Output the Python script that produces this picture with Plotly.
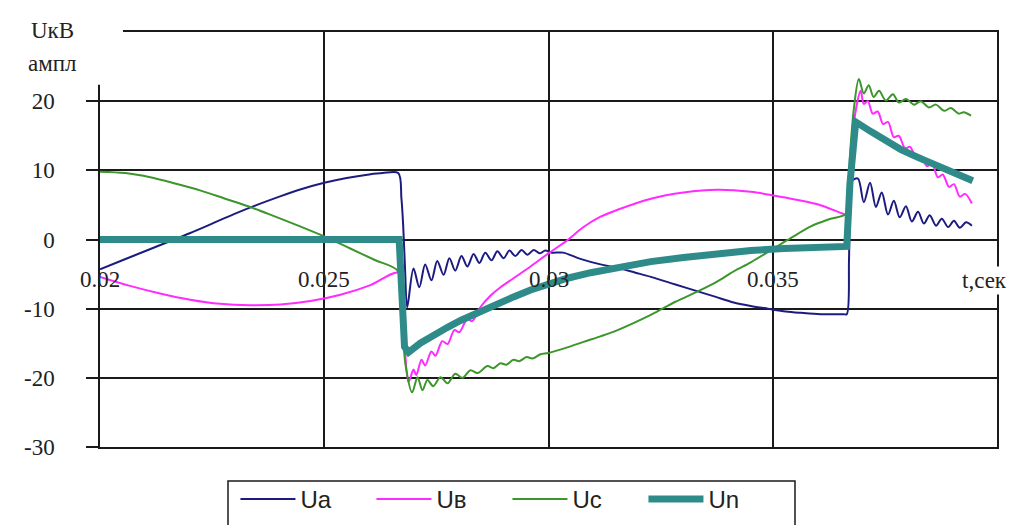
import plotly.graph_objects as go

# ---- data (t in seconds, U in kV) ----
t_ua = [0.0200, 0.0205, 0.0210, 0.0215, 0.0220, 0.0225, 0.0230, 0.0235, 0.0240, 0.0245,
        0.0250, 0.0255, 0.0260, 0.0263, 0.02665, 0.02672, 0.02676, 0.02680, 0.02685,
        0.02699, 0.02712, 0.02725, 0.02739, 0.02752, 0.02766, 0.02779, 0.02792, 0.02806,
        0.02819, 0.02833, 0.02846, 0.02859, 0.02873, 0.02886, 0.02900, 0.02913, 0.02926,
        0.02940, 0.02953, 0.02967, 0.02980, 0.02993, 0.03007, 0.03033, 0.03071, 0.03116,
        0.03154, 0.03194, 0.03228, 0.03283, 0.03333, 0.03373, 0.03413, 0.03451, 0.03489,
        0.03529, 0.03563, 0.03607, 0.03658, 0.03665, 0.03670, 0.03672, 0.03677,
        0.03690, 0.03703, 0.03717, 0.03730, 0.03743, 0.03757, 0.03770, 0.03783, 0.03797,
        0.03810, 0.03824, 0.03837, 0.03850, 0.03864, 0.03877, 0.03891, 0.03904, 0.03917,
        0.03931, 0.03944]
ua = [-4.3, -3.0, -1.7, -0.4, 0.9, 2.3, 3.7, 5.0, 6.2, 7.3,
      8.2, 8.9, 9.4, 9.6, 9.6, 6.0, 2.0, -4.0, -9.8,
      -4.2, -6.9, -3.6, -5.9, -3.1, -5.1, -2.7, -4.5, -2.4,
      -3.9, -2.1, -3.4, -1.9, -3.0, -1.7, -2.7, -1.6, -2.4,
      -1.5, -2.2, -1.5, -2.0, -1.6, -1.9, -1.9, -2.8, -3.6,
      -4.1, -4.8, -5.4, -6.5, -7.5, -8.3, -9.1, -9.6, -10.0,
      -10.4, -10.6, -10.8, -10.8, -10.8, -3.0, 5.0, 8.5,
      8.8, 5.4, 8.2, 4.7, 6.8, 3.6, 5.6, 3.2, 4.8,
      2.6, 4.0, 2.3, 3.5, 2.0, 3.0, 1.8, 2.7, 1.7,
      2.5, 2.0]

t_ub = [0.0200, 0.02067, 0.02134, 0.02201, 0.02268, 0.02335, 0.02402, 0.02469, 0.02536,
        0.02603, 0.02665, 0.02672, 0.02679, 0.02688, 0.02699, 0.02705, 0.02717, 0.02725,
        0.02739, 0.02748, 0.02763, 0.02775, 0.02790, 0.02801, 0.02819, 0.02830, 0.02848,
        0.02871, 0.02893, 0.02922, 0.02960, 0.03000, 0.03042, 0.03078, 0.03116, 0.03154,
        0.03228, 0.03301, 0.03377, 0.03451, 0.03525, 0.03600, 0.03658, 0.03665, 0.03672,
        0.03681, 0.03696, 0.03703, 0.03712, 0.03723, 0.03734, 0.03746, 0.03757, 0.03770,
        0.03781, 0.03795, 0.03806, 0.03819, 0.03830, 0.03844, 0.03855, 0.03868, 0.03879,
        0.03893, 0.03904, 0.03917, 0.03929, 0.03944]
ub = [-5.4, -6.7, -7.8, -8.7, -9.3, -9.5, -9.4, -8.9, -8.0,
      -6.6, -4.8, -8.0, -15.0, -20.6, -18.8, -19.6, -17.4, -18.2,
      -16.2, -16.8, -14.7, -15.1, -13.1, -13.4, -11.5, -11.8, -9.8,
      -8.1, -6.9, -5.6, -3.9, -2.0, -0.1, 1.8, 3.3, 4.3,
      5.9, 6.8, 7.2, 6.9, 6.1, 5.1, 3.7, 3.6, 10.0,
      17.0, 21.5, 19.6, 20.0, 18.2, 18.5, 16.7, 17.0, 14.8,
      15.0, 13.2, 13.4, 12.0, 12.1, 10.6, 11.0, 9.0, 9.4,
      7.6, 8.0, 6.2, 6.6, 5.2]

t_uc = [0.0200, 0.02056, 0.02112, 0.02167, 0.02223, 0.02279, 0.02335, 0.02391, 0.02446,
        0.02498, 0.02558, 0.02614, 0.02665, 0.02672, 0.02681, 0.02696, 0.02708, 0.02719,
        0.02730, 0.02743, 0.02759, 0.02775, 0.02792, 0.02808, 0.02826, 0.02842, 0.02864,
        0.02877, 0.02893, 0.02906, 0.02922, 0.02935, 0.02951, 0.02964, 0.02982, 0.03000,
        0.03042, 0.03078, 0.03116, 0.03154, 0.03228, 0.03283, 0.03333, 0.03373, 0.03413,
        0.03451, 0.03502, 0.03540, 0.03585, 0.03629, 0.03665, 0.03672, 0.03681, 0.03692,
        0.03703, 0.03714, 0.03725, 0.03737, 0.03752, 0.03768, 0.03781, 0.03797, 0.03815,
        0.03830, 0.03848, 0.03864, 0.03882, 0.03897, 0.03915, 0.03926, 0.03942]
uc = [9.8, 9.6, 9.0, 8.1, 7.1, 5.9, 4.7, 3.3, 1.9,
      0.5, -1.3, -3.0, -4.6, -10.0, -18.0, -22.1, -19.9, -21.8,
      -20.3, -21.2, -19.9, -20.8, -19.4, -20.0, -18.9, -19.3, -18.3,
      -18.6, -17.9, -18.1, -17.4, -17.6, -17.0, -17.2, -16.6, -16.4,
      -15.6, -14.8, -14.0, -13.1, -10.9, -9.0, -7.5, -6.2, -4.6,
      -3.3, -1.3, 0.2, 1.9, 3.0, 3.8, 12.0, 19.0, 23.2,
      21.1, 22.3, 20.6, 21.5, 20.1, 21.0, 19.8, 20.3, 19.5,
      20.0, 19.1, 19.5, 18.6, 19.0, 18.2, 18.4, 17.9]

t_un = [0.0200, 0.02667, 0.02679, 0.02688, 0.02714, 0.02743, 0.02775, 0.02804, 0.02848,
        0.02893, 0.02922, 0.02960, 0.03000, 0.03042, 0.03094, 0.03154, 0.03228, 0.03301,
        0.03377, 0.03451, 0.03525, 0.03600, 0.03658, 0.03665, 0.03672, 0.03685, 0.03719,
        0.03752, 0.03786, 0.03826, 0.03864, 0.03902, 0.03946]
un = [0.0, 0.0, -15.5, -16.3, -15.0, -13.8, -12.7, -11.7, -10.4,
      -9.0, -8.3, -7.3, -6.4, -5.6, -4.8, -4.0, -3.2, -2.6,
      -2.0, -1.6, -1.3, -1.1, -1.0, -1.0, 8.0, 17.0, 15.6,
      14.3, 13.0, 11.8, 10.8, 9.8, 8.5]

series_names = ["Ua", "Uв", "Uc", "Un"]
x_tick_vals = [0.02, 0.025, 0.03, 0.035]
x_tick_text = ["0.02", "0.025", "0.03", "0.035"]
y_tick_vals = [-30, -20, -10, 0, 10, 20]
y_tick_text = ["-30", "-20", "-10", "0", "10", "20"]

colors = ["#1c1c80", "#ff2bff", "#3c962c", "#2e8b8a"]
widths = [2, 2, 2, 7]
shapes_ = ["spline", "spline", "spline", "linear"]

fig = go.Figure()
for name, tt, vv, c, w, sh in zip(series_names, [t_ua, t_ub, t_uc, t_un], [ua, ub, uc, un],
                                  colors, widths, shapes_):
    fig.add_trace(go.Scatter(x=tt, y=vv, mode="lines", name=name,
                             line=dict(color=c, width=w, shape=sh, smoothing=0.9)))

serif = "Liberation Serif"
lab_font = dict(family=serif, size=23, color="#222222")

annotations = []
for tv, tx in zip(x_tick_vals, x_tick_text):
    annotations.append(dict(x=tv, y=-5.8, xref="x", yref="y", text=tx, showarrow=False,
                            font=lab_font, xanchor="center", yanchor="middle"))
annotations.append(dict(x=0.9866, y=-5.9, xref="paper", yref="y", text="t,сек",
                        showarrow=False, font=lab_font, bgcolor="white",
                        xanchor="center", yanchor="middle"))
annotations.append(dict(x=-0.0535, y=1.0048, xref="paper", yref="paper", text="UкВ",
                        showarrow=False, font=lab_font, xanchor="center", yanchor="middle"))
annotations.append(dict(x=-0.0535, y=0.923, xref="paper", yref="paper", text="ампл",
                        showarrow=False, font=lab_font, xanchor="center", yanchor="middle"))

fig.update_layout(
    width=1026, height=525,
    margin=dict(l=92, r=37, t=24, b=86, autoexpand=False),
    plot_bgcolor="white", paper_bgcolor="white",
    showlegend=True,
    legend=dict(orientation="h", x=0.151, y=-0.072, xanchor="left", yanchor="top",
                borderwidth=0, bgcolor="rgba(0,0,0,0)",
                font=dict(family="Liberation Sans", size=24, color="#222222"),
                entrywidth=66, entrywidthmode="pixels", itemwidth=55),
    xaxis=dict(range=[0.02, 0.04], tickvals=[0.025, 0.03, 0.035, 0.04], showticklabels=False,
               showgrid=True, gridcolor="#1a1a1a", gridwidth=1.5, zeroline=False,
               showline=True, mirror=True, linecolor="#1a1a1a", linewidth=1.5, ticks=""),
    yaxis=dict(range=[-30, 30], tickvals=y_tick_vals, ticktext=y_tick_text,
               showgrid=True, gridcolor="#1a1a1a", gridwidth=1.5, zeroline=False,
               showline=True, mirror=True, linecolor="#1a1a1a", linewidth=1.5,
               ticks="outside", ticklen=12, tickwidth=1.5, tickcolor="#1a1a1a",
               tickfont=lab_font, ticklabelstandoff=27),
    annotations=annotations,
    shapes=[dict(type="rect", xref="paper", yref="paper", x0=-0.11, x1=0.0256,
                 y0=0.873, y1=1.02, fillcolor="white", line=dict(width=0), layer="above"),
            dict(type="rect", xref="paper", yref="paper", x0=0.1427, x1=0.7748,
                 y0=-0.2, y1=-0.0819, fillcolor="rgba(0,0,0,0)",
                 line=dict(color="#1a1a1a", width=1.5), layer="above")],
)

fig.write_html("out.html")
